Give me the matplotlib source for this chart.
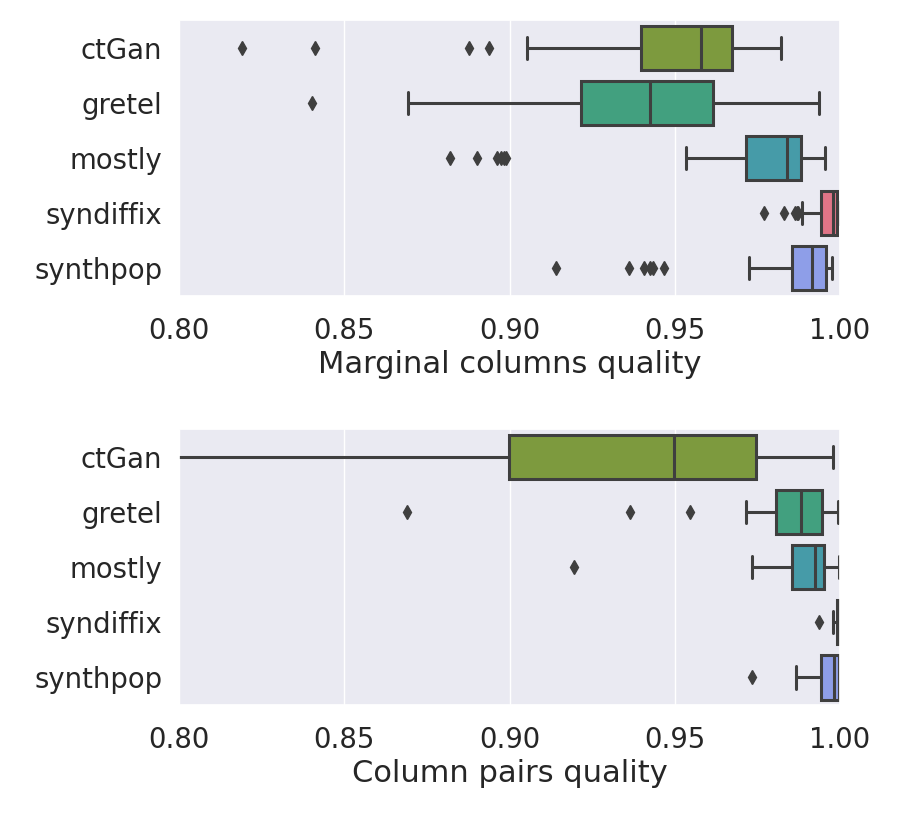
import matplotlib
matplotlib.use("Agg")
import matplotlib.pyplot as plt
import seaborn as sns

# models, top to bottom
models = ["ctGan", "gretel", "mostly", "syndiffix", "synthpop"]
box_colors = ["#7d9a3e", "#42a07f", "#469ba8", "#e07587", "#8e9ee8"]

# Marginal columns quality: whisker low, Q1, median, Q3, whisker high
marg_whislo = [0.9052, 0.8692, 0.9533, 0.9884, 0.9725]
marg_q1 = [0.9397, 0.9217, 0.9715, 0.9943, 0.9855]
marg_med = [0.9579, 0.9424, 0.9841, 0.9978, 0.9915]
marg_q3 = [0.9673, 0.9615, 0.9883, 0.9990, 0.9958]
marg_whishi = [0.9822, 0.9937, 0.9953, 0.9998, 0.9976]
marg_fliers = [
    [0.8191, 0.8410, 0.8878, 0.8938],
    [0.8401],
    [0.8821, 0.8901, 0.8962, 0.8973, 0.8982, 0.8990],
    [0.9770, 0.9829, 0.9864, 0.9869, 0.9873],
    [0.9140, 0.9361, 0.9408, 0.9424, 0.9435, 0.9467],
]

# Column pairs quality
pair_whislo = [0.70, 0.9716, 0.9735, 0.9978, 0.9867]
pair_q1 = [0.8999, 0.9807, 0.9854, 0.9992, 0.9942]
pair_med = [0.9499, 0.9882, 0.9924, 0.9997, 0.9983]
pair_q3 = [0.9745, 0.9944, 0.9951, 1.0, 0.9998]
pair_whishi = [0.9978, 0.9995, 0.9998, 1.0, 1.0]
pair_fliers = [
    [],
    [0.8690, 0.9365, 0.9546],
    [0.9196],
    [0.9937],
    [0.9733],
]

sns.set_theme(style="darkgrid")
plt.rcParams["font.family"] = ["DejaVu Sans"]
FS = 19.8
LINE = "#3f3f3f"


def draw(ax, lo, q1, med, q3, hi, fliers, xlabel):
    stats = []
    for i in range(len(models)):
        stats.append({"whislo": lo[i], "q1": q1[i], "med": med[i],
                      "q3": q3[i], "whishi": hi[i], "fliers": fliers[i]})
    pos = list(range(len(models)))
    parts = ax.bxp(stats, positions=pos, vert=False, widths=0.8,
                   patch_artist=True, showfliers=True,
                   boxprops=dict(edgecolor=LINE, linewidth=2.2),
                   whiskerprops=dict(color=LINE, linewidth=2.2),
                   capprops=dict(color=LINE, linewidth=2.2),
                   medianprops=dict(color=LINE, linewidth=2.2),
                   flierprops=dict(marker="d", markerfacecolor=LINE,
                                   markeredgecolor=LINE, markersize=7))
    for patch, c in zip(parts["boxes"], box_colors):
        patch.set_facecolor(c)
    ax.set_xlim(0.8, 1.0)
    ax.set_ylim(len(models) - 0.5, -0.5)
    ax.set_yticks(pos)
    ax.set_yticklabels(models)
    ax.set_xticks([0.80, 0.85, 0.90, 0.95, 1.00])
    ax.set_xticklabels(["0.80", "0.85", "0.90", "0.95", "1.00"])
    ax.tick_params(labelsize=FS, colors="#262626")
    ax.tick_params(axis="x", pad=9)
    ax.tick_params(axis="y", pad=6)
    ax.grid(axis="y", visible=False)
    ax.set_xlabel(xlabel, fontsize=22, color="#262626", labelpad=4)


fig = plt.figure(figsize=(8.97, 8.17), dpi=100)
ax1 = fig.add_axes([0.1996, 0.6377, 0.7369, 0.3378])
ax2 = fig.add_axes([0.1996, 0.1370, 0.7369, 0.3378])

draw(ax1, marg_whislo, marg_q1, marg_med, marg_q3, marg_whishi,
     marg_fliers, "Marginal columns quality")
draw(ax2, pair_whislo, pair_q1, pair_med, pair_q3, pair_whishi,
     pair_fliers, "Column pairs quality")

fig.savefig("out.png", dpi=100)
